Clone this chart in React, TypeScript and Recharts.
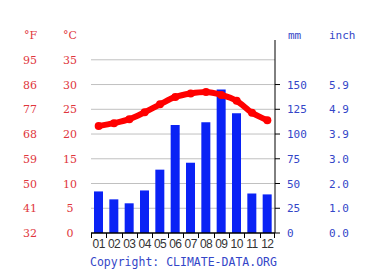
import React from 'react';
import { ComposedChart, Bar, Line, XAxis, YAxis, CartesianGrid } from 'recharts';

const months = ['01', '02', '03', '04', '05', '06', '07', '08', '09', '10', '11', '12'];
const tempC = [21.6, 22.2, 23.0, 24.4, 26.0, 27.5, 28.2, 28.5, 27.9, 26.7, 24.3, 22.8];
const rainMm = [42, 34, 30, 43, 64, 109, 71, 112, 145, 121, 40, 39];
const tempTicks = [0, 5, 10, 15, 20, 25, 30, 35];
const rainTicks = [0, 25, 50, 75, 100, 125, 150];

const RED = '#e0363c';
const BLUE = '#3446c8';
const MONO = '"DejaVu Sans Mono", monospace';
const SERIF = '"DejaVu Serif", serif';

const data = months.map((m, i) => ({ m, t: tempC[i], r: rainMm[i] }));

// left side: °F and °C columns in one tick
const TempTick = (props: any) => {
  const { y, payload } = props;
  const c = payload.value as number;
  const f = Math.round(c * 1.8 + 32);
  return (
    <g>
      <text x={30} y={y} dy={4} textAnchor="middle" fill={RED} fontSize={11} fontFamily={SERIF}>
        {f}
      </text>
      <text x={70} y={y} dy={4} textAnchor="middle" fill={RED} fontSize={11} fontFamily={SERIF}>
        {c}
      </text>
    </g>
  );
};

const RainTick = (props: any) => {
  const { y, payload } = props;
  const mm = payload.value as number;
  return (
    <g>
      <text x={287} y={y} dy={4} fill={BLUE} fontSize={11} fontFamily={MONO}>
        {mm}
      </text>
      <text x={329} y={y} dy={4} fill={BLUE} fontSize={11} fontFamily={MONO}>
        {(mm / 25.4).toFixed(1)}
      </text>
    </g>
  );
};

const step = 184 / 12;

// month label plus tick marks on the band edges
const MonthTick = (props: any) => {
  const { x, payload, index } = props;
  const left = Math.round(x - step / 2);
  const right = Math.round(x + step / 2) - 1;
  return (
    <g>
      <rect x={left} y={233} width={1} height={5} fill="#000" />
      {index === months.length - 1 && <rect x={right} y={233} width={1} height={5} fill="#000" />}
      <text
        x={x}
        y={248}
        textAnchor="middle"
        fill="#333"
        fontSize={12}
        letterSpacing={-0.6}
        fontFamily='"Liberation Sans", sans-serif'
      >
        {payload.value}
      </text>
    </g>
  );
};

const label = (left: number, top: number, color: string, font: string, text: string) => (
  <span
    style={{
      position: 'absolute',
      left,
      top,
      color,
      fontFamily: font,
      fontSize: 11,
      lineHeight: '12px',
      whiteSpace: 'nowrap',
    }}
  >
    {text}
  </span>
);

export default function App() {
  return (
    <div style={{ position: 'absolute', left: 0, top: 0, width: 365, height: 273, background: '#fff' }}>
      {label(24, 30, RED, SERIF, '°F')}
      {label(63, 30, RED, SERIF, '°C')}
      {label(288, 30, BLUE, MONO, 'mm')}
      {label(329, 30, BLUE, MONO, 'inch')}
      <ComposedChart width={365} height={273} data={data} margin={{ top: 40, right: 0, bottom: 0, left: 0 }}>
        <CartesianGrid yAxisId="c" vertical={false} stroke="#c0c0c0" horizontalValues={[5, 10, 15, 20, 25, 30, 35]} />
        <XAxis
          dataKey="m"
          height={40}
          axisLine={{ stroke: '#000', strokeWidth: 1.5 }}
          tickLine={false}
          tick={<MonthTick />}
          interval={0}
        />
        <YAxis
          yAxisId="c"
          orientation="left"
          width={91}
          domain={[0, 39]}
          ticks={tempTicks}
          axisLine={false}
          tickLine={false}
          tick={<TempTick />}
        />
        <YAxis
          yAxisId="r"
          orientation="right"
          width={90}
          domain={[0, 195]}
          ticks={rainTicks}
          axisLine={{ stroke: '#000' }}
          tickLine={{ stroke: '#000' }}
          tickSize={5}
          tick={<RainTick />}
        />
        <Bar yAxisId="r" dataKey="r" fill="#0a22f5" barSize={9} isAnimationActive={false} />
        <Line
          yAxisId="c"
          dataKey="t"
          type="monotone"
          stroke="#ff0000"
          strokeWidth={6}
          dot={{ r: 4, fill: '#ff0000', strokeWidth: 0 }}
          isAnimationActive={false}
        />
      </ComposedChart>
      <span
        style={{
          position: 'absolute',
          left: 90,
          top: 255,
          color: BLUE,
          fontFamily: MONO,
          fontSize: 11.5,
          lineHeight: '14px',
          whiteSpace: 'nowrap',
        }}
      >
        Copyright: CLIMATE-DATA.ORG
      </span>
    </div>
  );
}
